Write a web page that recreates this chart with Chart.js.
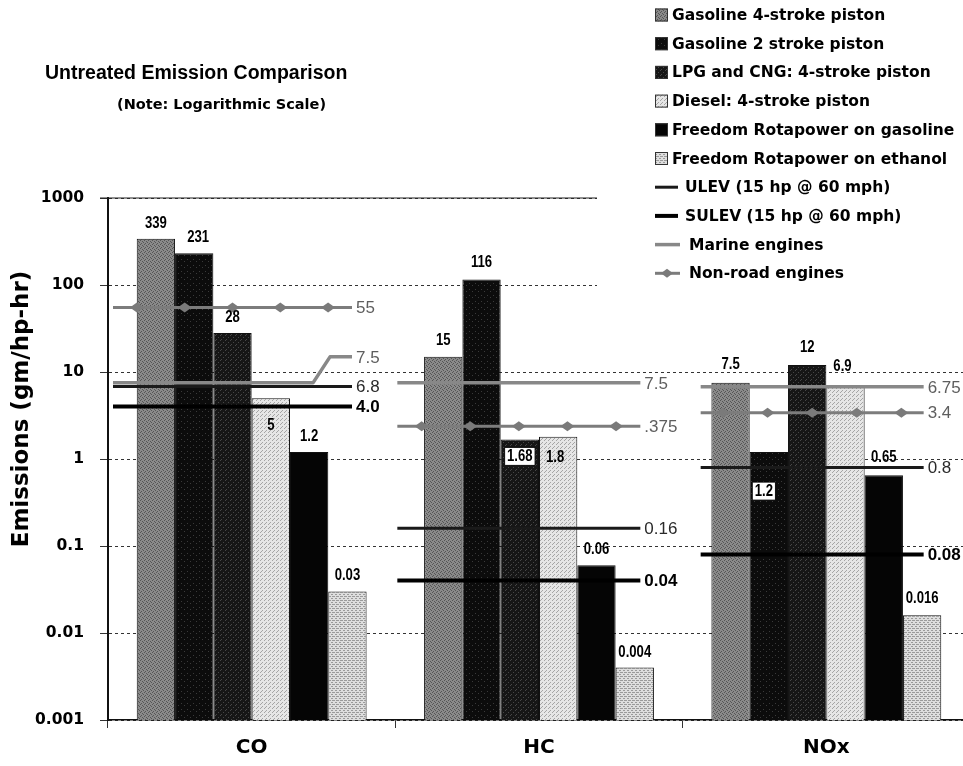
<!DOCTYPE html>
<html><head><meta charset="utf-8">
<script src="https://cdn.jsdelivr.net/npm/chart.js@4.4.1/dist/chart.umd.min.js"></script>
<style>
html,body{margin:0;padding:0;background:#fff;overflow:hidden;width:963px;height:766px}
#wrap{position:absolute;left:0;top:0;width:975px;height:766px}
</style>
</head><body><div id="wrap"><canvas id="c" width="975" height="766"></canvas></div>
<script>
// ---------- data ----------
const categories = ['CO', 'HC', 'NOx'];
const seriesNames = ['Gasoline 4-stroke piston', 'Gasoline 2 stroke piston', 'LPG and CNG: 4-stroke piston',
  'Diesel: 4-stroke piston', 'Freedom Rotapower on gasoline', 'Freedom Rotapower on ethanol'];
const gasoline4 = [339, 15, 7.5];
const gasoline2 = [231, 116, 1.2];
const lpgCng = [28, 1.68, 12];
const diesel = [5, 1.8, 6.9];
const rotaGasoline = [1.2, 0.06, 0.65];
const rotaEthanol = [0.03, 0.004, 0.016];

const standardNames = ['ULEV (15 hp @ 60 mph)', 'SULEV (15 hp @ 60 mph)', 'Marine engines', 'Non-road engines'];
const ulev = [6.8, 0.16, 0.8];
const ulevLabels = ['6.8', '0.16', '0.8'];
const sulev = [4.0, 0.04, 0.08];
const sulevLabels = ['4.0', '0.04', '0.08'];
const marine = [7.5, 7.5, 6.75];
const marineLabels = ['7.5', '7.5', '6.75'];
const nonRoad = [55, 2.375, 3.4];
const nonRoadLabels = ['55', '.375', '3.4'];

const yTicks = [0.001, 0.01, 0.1, 1, 10, 100, 1000];
const yTickLabels = ['0.001', '0.01', '0.1', '1', '10', '100', '1000'];

const titleText = 'Untreated Emission Comparison';
const subtitleText = '(Note: Logarithmic Scale)';
const yTitleText = 'Emissions (gm/hp-hr)';

// ---------- styles ----------
function pat(bg, fg, pts, size) {
  const c = document.createElement('canvas'); c.width = c.height = size;
  const x = c.getContext('2d');
  x.fillStyle = bg; x.fillRect(0, 0, size, size);
  x.fillStyle = fg; pts.forEach(([a, b]) => x.fillRect(a, b, 1, 1));
  return x.createPattern(c, 'repeat');
}
const fills = [
  pat('#8a8a8a', '#555', [[0,0],[2,1],[1,3],[3,2]], 4),
  pat('#0c0c0c', '#3a3a3a', [[1,1],[4,3]], 6),
  pat('#161616', '#474747', [[0,0],[3,2],[1,4]], 5),
  pat('#e6e6e6', '#a5a5a5', [[0,0],[2,2],[1,3]], 4),
  '#050505',
  pat('#dedede', '#9a9a9a', [[0,0],[1,0],[2,0],[0,2],[3,2]], 4)
];
const barSeries = [gasoline4, gasoline2, lpgCng, diesel, rotaGasoline, rotaEthanol];

const standards = [
  { name: standardNames[2], values: marine, labels: marineLabels, color: '#888', width: 3.5, text: '#5e5e5e', weight: 'normal' },
  { name: standardNames[3], values: nonRoad, labels: nonRoadLabels, color: '#7c7c7c', width: 3, text: '#5e5e5e', weight: 'normal', markers: true },
  { name: standardNames[0], values: ulev, labels: ulevLabels, color: '#1a1a1a', width: 3, text: '#2a2a2a', weight: 'normal' },
  { name: standardNames[1], values: sulev, labels: sulevLabels, color: '#000', width: 4, text: '#000', weight: 'bold' }
];
const refStart = [5, 2, 18];
const refEnd = [244, 245, 241];
const leaders = { '0,0': { bend: 205, rise: -26 } };

const labelPlace = {
  '1,0': { dx: 4 },
  '3,0': { dy: 32 },
  '0,1': { dy: -12 }, '1,1': { dy: -12 },
  '2,1': { dy: 22, box: true },
  '3,1': { dy: 25, dx: -3 },
  '0,2': { dy: -14 }, '2,2': { dy: -13 },
  '3,2': { dy: -15, dx: -3 },
  '1,2': { dy: 44, dx: -5, box: true },
  '4,2': { dy: -13 }, '5,2': { dy: -12 }
};

function diamond(ctx, x, y, w, h, color) {
  ctx.beginPath();
  ctx.moveTo(x - w / 2, y); ctx.lineTo(x, y - h / 2); ctx.lineTo(x + w / 2, y); ctx.lineTo(x, y + h / 2);
  ctx.closePath(); ctx.fillStyle = color; ctx.fill();
}

const decor = {
  id: 'decor',
  beforeDraw(chart) {
    const ctx = chart.ctx; ctx.save(); ctx.fillStyle = '#fff'; ctx.fillRect(0, 0, chart.width, chart.height); ctx.restore();
  },
  afterDatasetsDraw(chart) {
    const ctx = chart.ctx, xs = chart.scales.x, ys = chart.scales.y;
    const cw = xs.width / categories.length;
    ctx.save();
    // standard lines
    standards.forEach((st, si) => {
      st.values.forEach((v, ci) => {
        const left = xs.getPixelForValue(ci) - cw / 2;
        const x1 = left + refStart[ci], x2 = left + refEnd[ci];
        const y = ys.getPixelForValue(v);
        let ly = y;
        ctx.strokeStyle = st.color; ctx.lineWidth = st.width; ctx.lineJoin = 'round';
        ctx.beginPath(); ctx.moveTo(x1, y);
        const lead = leaders[si + ',' + ci];
        if (lead) {
          ctx.lineTo(left + lead.bend, y); ly = y + lead.rise;
          ctx.lineTo(left + lead.bend + 17, ly); ctx.lineTo(x2, ly);
        } else ctx.lineTo(x2, y);
        ctx.stroke();
        if (st.markers) {
          for (let k = 0; k < 5; k++) diamond(ctx, x1 + (k + 0.5) * (x2 - x1) / 5, y, 14, 10, '#7a7a7a');
        }
        ctx.fillStyle = st.text;
        ctx.font = st.weight + ' 17px "Liberation Sans", Arial, sans-serif';
        ctx.textAlign = 'left'; ctx.textBaseline = 'middle';
        ctx.fillText(st.labels[ci], x2 + 4, ly + 1);
      });
    });
    // data labels
    ctx.font = 'bold 16px "Liberation Sans", Arial, sans-serif';
    chart.data.datasets.forEach((ds, di) => {
      const meta = chart.getDatasetMeta(di);
      meta.data.forEach((el, ci) => {
        const p = labelPlace[di + ',' + ci] || {};
        const txt = String(ds.data[ci]);
        const x = el.x + (p.dx || 0), y = el.y + (p.dy === undefined ? -11 : p.dy);
        ctx.save();
        ctx.translate(x, y); ctx.scale(0.82, 1);
        const w = ctx.measureText(txt).width;
        if (p.box) {
          ctx.fillStyle = '#fff'; ctx.fillRect(-w / 2 - 3, -14, w + 6, 18);
          ctx.strokeStyle = '#000'; ctx.lineWidth = 1; ctx.strokeRect(-w / 2 - 3, -14, w + 6, 18);
        }
        ctx.fillStyle = '#000'; ctx.textAlign = 'center'; ctx.textBaseline = 'alphabetic';
        ctx.fillText(txt, 0, 0);
        ctx.restore();
      });
    });
    ctx.restore();
  },
  afterDraw(chart) {
    const ctx = chart.ctx, ca = chart.chartArea, ys = chart.scales.y;
    ctx.save();
    // solid top line
    const yt = ys.getPixelForValue(yTicks[yTicks.length - 1]);
    ctx.strokeStyle = '#222'; ctx.lineWidth = 1.2;
    ctx.beginPath(); ctx.moveTo(ca.left - 8, yt); ctx.lineTo(ca.right, yt); ctx.stroke();
    // legend box
    ctx.fillStyle = '#fff'; ctx.fillRect(597, 0, 400, 292);
    const rowY = (i) => 15 + i * 28.7;
    ctx.font = 'bold 15.5px "DejaVu Sans", sans-serif';
    ctx.textBaseline = 'middle'; ctx.textAlign = 'left';
    seriesNames.forEach((n, i) => {
      const y = rowY(i);
      ctx.fillStyle = fills[i]; ctx.fillRect(655, y - 6.5, 13, 13);
      ctx.strokeStyle = '#333'; ctx.lineWidth = 1; ctx.strokeRect(655.5, y - 6, 12, 12);
      ctx.fillStyle = '#000'; ctx.fillText(n, 672, y + 1);
    });
    const legOrder = [2, 3, 0, 1];
    legOrder.forEach((si, k) => {
      const st = standards[si];
      const y = rowY(6 + k);
      const x2 = k < 2 ? 678 : 680;
      ctx.strokeStyle = st.color; ctx.lineWidth = st.width;
      ctx.beginPath(); ctx.moveTo(655, y); ctx.lineTo(x2, y); ctx.stroke();
      if (st.markers) diamond(ctx, 667, y, 12, 9, '#7a7a7a');
      ctx.fillStyle = '#000'; ctx.fillText(st.name, k < 2 ? 685 : 689, y + 1);
    });
    // titles
    ctx.fillStyle = '#000';
    ctx.font = 'bold 19.5px "Liberation Sans", Arial, sans-serif';
    ctx.textBaseline = 'alphabetic';
    ctx.fillText(titleText, 45, 79);
    ctx.font = 'bold 14.5px "DejaVu Sans", sans-serif';
    ctx.fillText(subtitleText, 117, 109);
    // y title
    ctx.translate(22, 409); ctx.rotate(-Math.PI / 2);
    ctx.font = 'bold 23px "DejaVu Sans", sans-serif';
    ctx.textAlign = 'center'; ctx.textBaseline = 'middle';
    ctx.fillText(yTitleText, 0, 0);
    ctx.restore();
  }
};

new Chart(document.getElementById('c'), {
  type: 'bar',
  data: {
    labels: categories,
    datasets: barSeries.map((d, i) => ({
      label: seriesNames[i], data: d, backgroundColor: fills[i],
      borderColor: '#111', borderWidth: 1, borderSkipped: 'bottom',
      categoryPercentage: 0.8, barPercentage: 1.0
    }))
  },
  options: {
    responsive: false, animation: false, devicePixelRatio: 1,
    layout: { padding: { top: 198, right: 5, left: 0, bottom: 0 } },
    plugins: { legend: { display: false }, title: { display: false }, tooltip: { enabled: false } },
    scales: {
      x: {
        grid: { display: true, drawOnChartArea: false, drawTicks: true, tickLength: 8, tickColor: '#333', offset: true },
        border: { display: true, color: '#111', width: 1.5 },
        ticks: { font: { family: 'DejaVu Sans', weight: 'bold', size: 20 }, color: '#000', padding: 8 },
        afterFit: s => { s.height = 46; }
      },
      y: {
        type: 'logarithmic', min: 0.001, max: 1000,
        afterBuildTicks: s => { s.ticks = yTicks.map(v => ({ value: v })); },
        ticks: {
          autoSkip: false, color: '#000', padding: 16,
          font: { family: 'DejaVu Sans', weight: 'bold', size: 15.5 },
          callback: v => { const k = yTicks.indexOf(v); return k >= 0 ? yTickLabels[k] : ''; }
        },
        grid: { color: '#333', lineWidth: 1, tickLength: 8, tickColor: '#333' },
        border: { display: true, color: '#111', width: 2, dash: [3, 3] },
        afterFit: s => { s.width = 108; }
      }
    }
  },
  plugins: [decor]
});
</script>
</body></html>
